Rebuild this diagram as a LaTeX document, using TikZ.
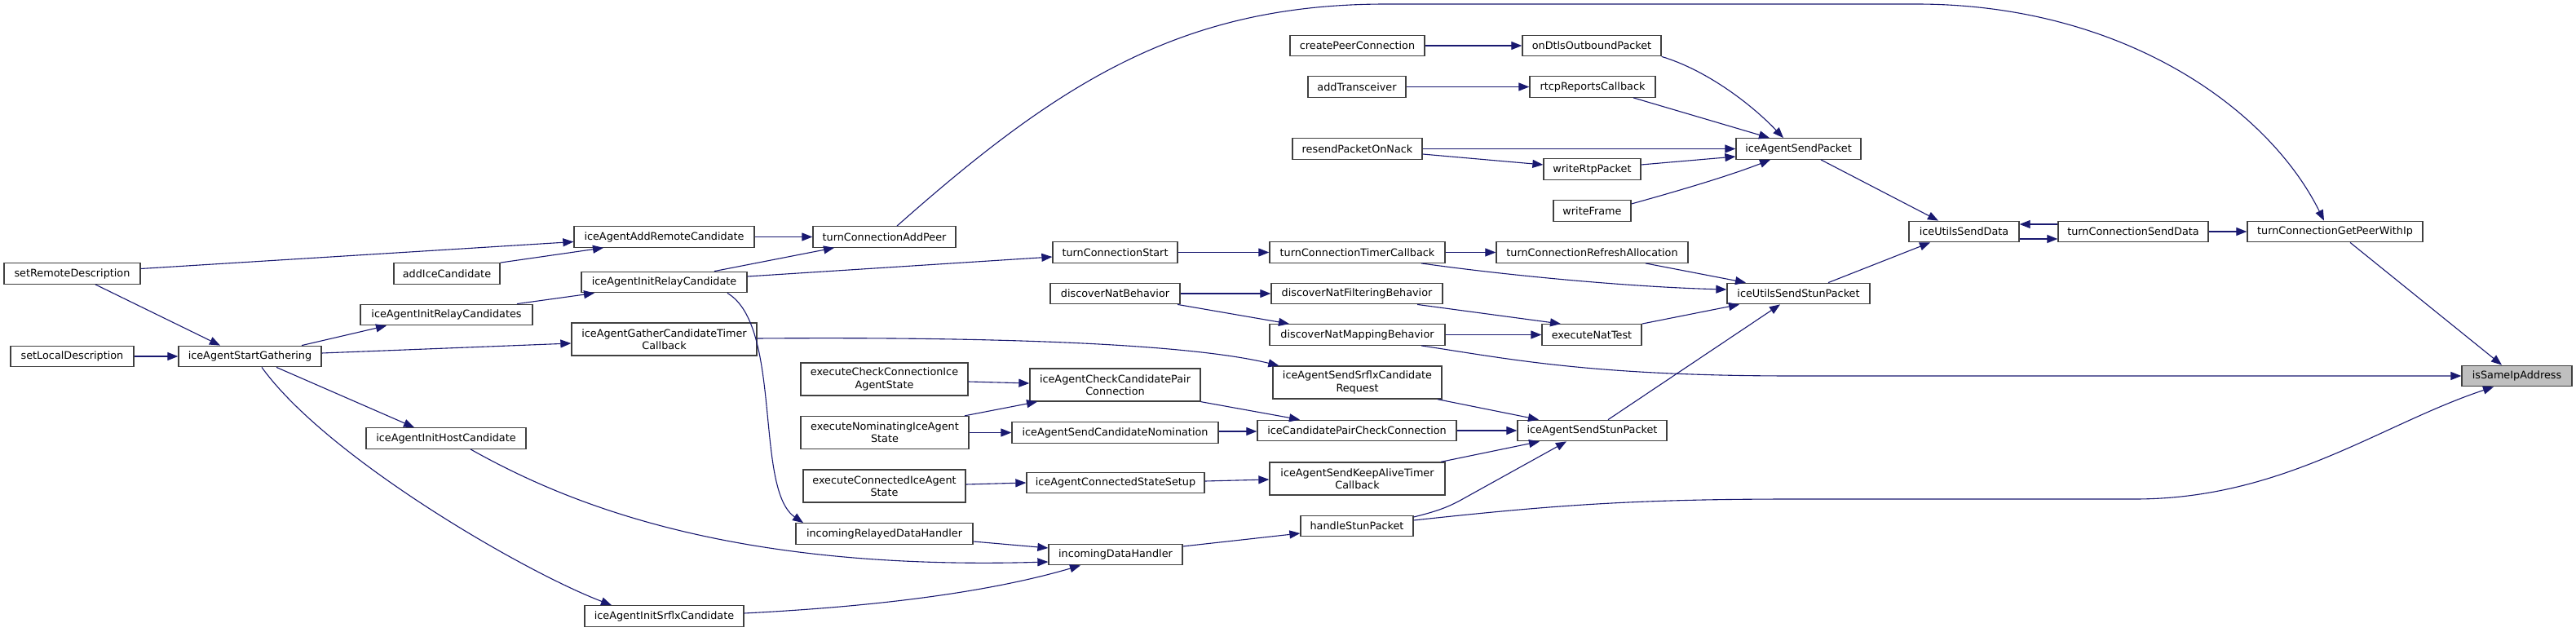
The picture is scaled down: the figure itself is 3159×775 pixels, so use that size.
\documentclass[tikz,border=0pt]{standalone}
\usepackage{fontspec}
\setmainfont{DejaVu Sans}
\usetikzlibrary{arrows.meta,calc}
\definecolor{edgec}{HTML}{191970}
\definecolor{boxc}{HTML}{404040}
\definecolor{hilite}{HTML}{BFBFBF}
\begin{document}
\begin{tikzpicture}[x=0.5pt,y=-0.5pt,
  box/.style={draw=boxc, line width=0.65pt, fill=white, inner sep=0pt, minimum height=12.75pt, align=center, font=\fontsize{6.4}{7.6}\selectfont},
  box2/.style={box, minimum height=20pt},
  edge/.style={draw=edgec, line width=0.55pt, -{Triangle[length=6.5pt,width=5pt]}, edgec}]
\useasboundingbox (0,0) rectangle (3159,775);
% column 1
\node[box, minimum width=83.5pt] (sRD) at (88.5,335.5) {setRemoteDescription};
\node[box, minimum width=75.5pt] (sLD) at (88.5,437) {setLocalDescription};
% column 2
\node[box, minimum width=87.5pt] (iSG) at (306.5,437) {iceAgentStartGathering};
% column 3
\node[box, minimum width=65pt] (aIC) at (548,335.5) {addIceCandidate};
\node[box, minimum width=105.5pt] (iIRCs) at (547.5,386) {iceAgentInitRelayCandidates};
\node[box, minimum width=98pt] (iIHC) at (547,537.5) {iceAgentInitHostCandidate};
% column 4
\node[box, minimum width=110.5pt] (iARC) at (814.5,290.5) {iceAgentAddRemoteCandidate};
\node[box, minimum width=101.5pt] (iIRC) at (814.5,346) {iceAgentInitRelayCandidate};
\node[box2, minimum width=113.5pt] (iGCT) at (814.5,416) {iceAgentGatherCandidateTimer\\Callback};
\node[box, minimum width=97.5pt] (iISC) at (814.5,755.5) {iceAgentInitSrflxCandidate};
% column 5
\node[box, minimum width=87.5pt] (tCAP) at (1084.5,290.5) {turnConnectionAddPeer};
\node[box2, minimum width=102.5pt] (eCC) at (1084.5,465) {executeCheckConnectionIce\\AgentState};
\node[box2, minimum width=103pt] (eNI) at (1085,530.5) {executeNominatingIceAgent\\State};
\node[box2, minimum width=99.5pt] (eCI) at (1084.5,596) {executeConnectedIceAgent\\State};
\node[box, minimum width=108.5pt] (iRDH) at (1084.5,654.5) {incomingRelayedDataHandler};
% column 6
\node[box, minimum width=76.5pt] (tCS) at (1367.5,309.5) {turnConnectionStart};
\node[box, minimum width=79.5pt] (dNB) at (1367.5,360) {discoverNatBehavior};
\node[box2, minimum width=104.5pt] (iCCPC) at (1367.5,472) {iceAgentCheckCandidatePair\\Connection};
\node[box, minimum width=126.5pt] (iSCN) at (1367.5,530.5) {iceAgentSendCandidateNomination};
\node[box, minimum width=109pt] (iCSS) at (1368,592) {iceAgentConnectedStateSetup};
\node[box, minimum width=82pt] (iDH) at (1368,680) {incomingDataHandler};
% column 7
\node[box, minimum width=82.5pt] (cPC) at (1664.5,56) {createPeerConnection};
\node[box, minimum width=60pt] (aT) at (1664,106.5) {addTransceiver};
\node[box, minimum width=79.5pt] (rPON) at (1664.5,182.5) {resendPacketOnNack};
\node[box, minimum width=107.5pt] (tCTC) at (1664.5,309.5) {turnConnectionTimerCallback};
\node[box, minimum width=105pt] (dNFB) at (1664,360) {discoverNatFilteringBehavior};
\node[box, minimum width=107.5pt] (dNMB) at (1664.5,410.5) {discoverNatMappingBehavior};
\node[box2, minimum width=103.5pt] (iSSCR) at (1664.5,469) {iceAgentSendSrflxCandidate\\Request};
\node[box, minimum width=122pt] (iCPCC) at (1664,528) {iceCandidatePairCheckConnection};
\node[box2, minimum width=107.5pt] (iSKA) at (1664.5,587) {iceAgentSendKeepAliveTimer\\Callback};
\node[box, minimum width=69pt] (hSP) at (1664,645) {handleStunPacket};
% column 8
\node[box, minimum width=85pt] (oDOP) at (1952,56) {onDtlsOutboundPacket};
\node[box, minimum width=77pt] (rRC) at (1953,106.5) {rtcpReportsCallback};
\node[box, minimum width=59.5pt] (wRP) at (1952.5,207.5) {writeRtpPacket};
\node[box, minimum width=47.5pt] (wF) at (1952.5,258.5) {writeFrame};
\node[box, minimum width=117.5pt] (tCRA) at (1952.5,309.5) {turnConnectionRefreshAllocation};
\node[box, minimum width=61pt] (eNT) at (1952,410.5) {executeNatTest};
\node[box, minimum width=91.5pt] (iSSP) at (1952.5,528) {iceAgentSendStunPacket};
% column 9
\node[box, minimum width=76.5pt] (iSP) at (2205.5,182.5) {iceAgentSendPacket};
\node[box, minimum width=87.5pt] (iUSSP) at (2205.5,360) {iceUtilsSendStunPacket};
% column 10+
\node[box, minimum width=67.5pt] (iUSD) at (2408.5,284) {iceUtilsSendData};
\node[box, minimum width=92pt] (tCSD) at (2616,284) {turnConnectionSendData};
\node[box, minimum width=107.5pt] (tCGP) at (2863.5,284) {turnConnectionGetPeerWithIp};
\node[box, minimum width=67.5pt, fill=hilite] (iSIA) at (3086.5,461) {isSameIpAddress};
% edges
\draw[edge] ($(sRD.east)+(0,-6)$) -- ($(iARC.west)+(0,6)$);
\draw[edge] ($(sRD.south)+(28.5,0)$) -- ($(iSG.north)+(-36.5,0)$);
\draw[edge] (aIC.north east) -- ($(iARC.south)+(-74.5,0)$);
\draw[edge] (sLD.east) -- (iSG.west);
\draw[edge] ($(iSG.north)+(63.5,0)$) -- ($(iIRCs.south)+(-73.5,0)$);
\draw[edge] ($(iSG.east)+(0,-4)$) -- ($(iGCT.west)+(0,5)$);
\draw[edge] ($(iSG.south)+(32.5,0)$) -- ($(iIHC.north)+(-39,0)$);
\draw[edge] ($(iSG.south)+(14.5,0)$) .. controls (400,560) and (640,700) .. ($(iISC.north)+(-64.5,0)$);
\draw[edge] ($(iIRCs.north)+(86.5,0)$) -- ($(iIRC.south)+(-85.5,0)$);
\draw[edge] (iARC.east) -- (tCAP.west);
\draw[edge] ($(iIRC.north)+(61.5,0)$) -- ($(tCAP.south)+(-61.5,0)$);
\draw[edge] ($(iIRC.east)+(0,-7)$) -- ($(tCS.west)+(0,5.5)$);
\draw[edge] ($(iIRC.south)+(77.5,0)$) .. controls (960,400) and (925,600) .. ($(iRDH.north)+(-99.5,0)$);
\draw[edge] ($(iGCT.east)+(0,-1)$) .. controls (1200,413) and (1450,420) .. ($(iSSCR.north west)+(8,0)$);
\draw[edge] ($(iIHC.south)+(30,0)$) .. controls (700,620) and (900,700) .. ($(iDH.west)+(0,9)$);
\draw[edge] ($(iISC.east)+(0,-3.5)$) .. controls (1050,745) and (1200,730) .. ($(iDH.south)+(-43,0)$);
\draw[edge] ($(tCAP.north)+(15.5,0)$) .. controls (1300,100) and (1450,5) .. (1700,5) -- (2350,5) .. controls (2600,5) and (2780,130) .. ($(tCGP.north)+(-13.5,0)$);
\draw[edge] (tCS.east) -- (tCTC.west);
\draw[edge] (dNB.east) -- (dNFB.west);
\draw[edge] ($(dNB.south)+(76.5,0)$) -- ($(dNMB.north)+(-83.5,0)$);
\draw[edge] ($(eCC.east)+(0,3)$) -- ($(iCCPC.west)+(0,-2)$);
\draw[edge] ($(eNI.north)+(98,0)$) -- ($(iCCPC.south)+(-95.5,0)$);
\draw[edge] (eNI.east) -- (iSCN.west);
\draw[edge] ($(eCI.east)+(0,-2)$) -- (iCSS.west);
\draw[edge] (iCCPC.south east) -- ($(iCPCC.north)+(-70,0)$);
\draw[edge] ($(iSCN.east)+(0,-1.5)$) -- ($(iCPCC.west)+(0,1)$);
\draw[edge] ($(iCSS.east)+(0,-2)$) -- ($(iSKA.west)+(0,1)$);
\draw[edge] ($(iRDH.east)+(0,9.5)$) -- ($(iDH.west)+(0,-8)$);
\draw[edge] ($(iDH.east)+(0,-10)$) -- ($(hSP.west)+(0,9)$);
\draw[edge] (cPC.east) -- (oDOP.west);
\draw[edge] (aT.east) -- (rRC.west);
\draw[edge] (rPON.east) -- (iSP.west);
\draw[edge] ($(rPON.east)+(0,6.5)$) -- ($(wRP.west)+(0,-5.5)$);
\draw[edge] ($(wRP.east)+(0,-5.5)$) -- ($(iSP.west)+(0,9.5)$);
\draw[edge] ($(wF.east)+(0,-8.5)$) .. controls (2080,228) and (2130,212) .. ($(iSP.south)+(-34.5,0)$);
\draw[edge] (oDOP.south east) .. controls (2090,85) and (2145,125) .. ($(iSP.north)+(-18.5,0)$);
\draw[edge] ($(rRC.south)+(50,0)$) -- ($(iSP.north)+(-35.5,0)$);
\draw[edge] (tCTC.east) -- (tCRA.west);
\draw[edge] ($(tCTC.south)+(78.5,0)$) .. controls (1850,338) and (2000,352) .. ($(iUSSP.west)+(0,-5)$);
\draw[edge] ($(tCRA.south)+(65.5,0)$) -- ($(iUSSP.north)+(-64.5,0)$);
\draw[edge] ($(dNFB.south)+(74,0)$) -- ($(eNT.north)+(-38,0)$);
\draw[edge] (dNMB.east) -- (eNT.west);
\draw[edge] ($(dNMB.south)+(78.5,0)$) .. controls (1850,440) and (1950,461) .. (2200,461) -- (iSIA.west);
\draw[edge] (eNT.north east) -- ($(iUSSP.south)+(-72.5,0)$);
\draw[edge] ($(iSSCR.south)+(98.5,0)$) -- ($(iSSP.north)+(-65.5,0)$);
\draw[edge] (iCPCC.east) -- (iSSP.west);
\draw[edge] ($(iSKA.north)+(102.5,0)$) -- ($(iSSP.south)+(-64.5,0)$);
\draw[edge] ($(hSP.east)+(0,-11)$) .. controls (1762,627) and (1775,622) .. (1790,614) -- ($(iSSP.south)+(-31.5,0)$);
\draw[edge] ($(hSP.east)+(0,-7)$) .. controls (1900,620) and (2000,612) .. (2200,612) -- (2618,612) .. controls (2800,612) and (2920,520) .. ($(iSIA.south)+(-28.5,0)$);
\draw[edge] ($(iSSP.north)+(19.5,0)$) -- ($(iUSSP.south)+(-22.5,0)$);
\draw[edge] ($(iSP.south)+(27.5,0)$) -- ($(iUSD.north)+(-31.5,0)$);
\draw[edge] ($(iUSSP.north)+(36.5,0)$) -- ($(iUSD.south)+(-41.5,0)$);
\draw[edge] ($(iUSD.east)+(0,9)$) -- ($(tCSD.west)+(0,9)$);
\draw[edge] ($(tCSD.west)+(0,-9)$) -- ($(iUSD.east)+(0,-9)$);
\draw[edge] (tCSD.east) -- (tCGP.west);
\draw[edge] ($(tCGP.south)+(18.5,0)$) -- ($(iSIA.north)+(-18.5,0)$);
\end{tikzpicture}
\end{document}
